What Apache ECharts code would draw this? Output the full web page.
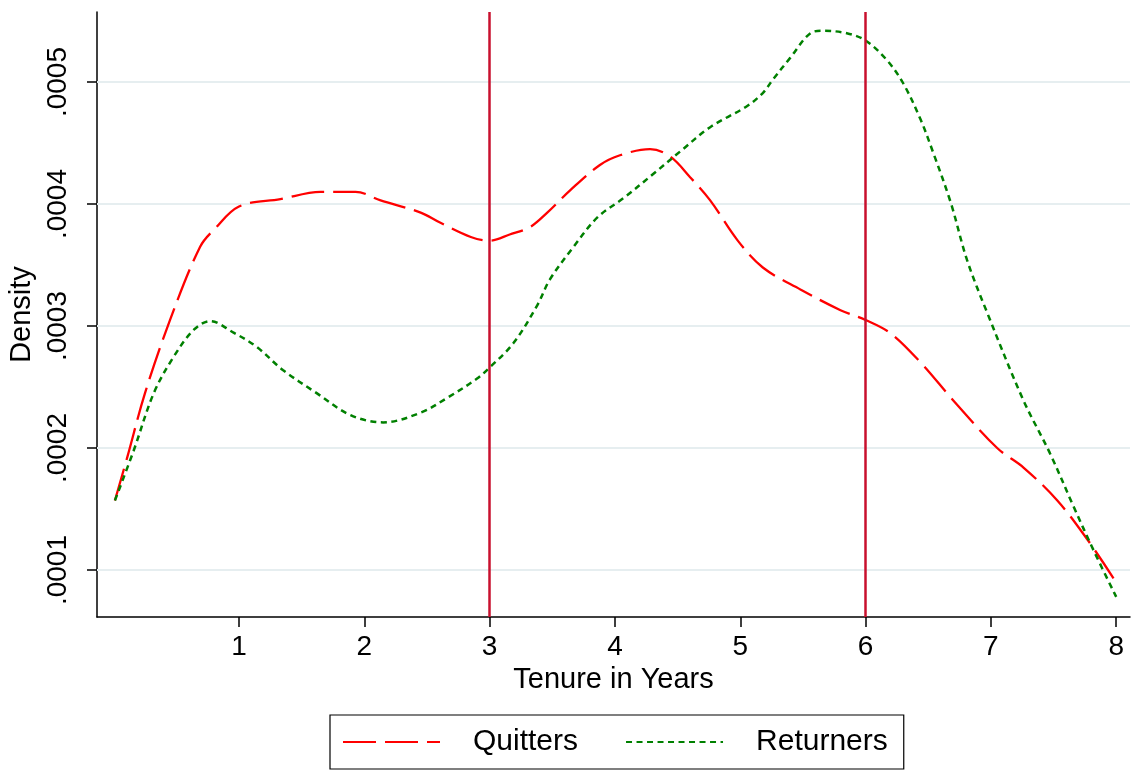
<!DOCTYPE html>
<html>
<head>
<meta charset="utf-8">
<script src="https://cdn.jsdelivr.net/npm/echarts@6/dist/echarts.min.js"></script>
<style>
html,body{margin:0;padding:0;background:#fff;}
#chart{width:1135px;height:773px;}
</style>
</head>
<body>
<div id="chart"></div>
<script>
// Tick values and labels
const xTickValues = [1, 2, 3, 4, 5, 6, 7, 8];
const xTickLabels = ['1', '2', '3', '4', '5', '6', '7', '8'];
const yTickValues = [0.0001, 0.0002, 0.0003, 0.0004, 0.0005];
const yTickLabels = ['.0001', '.0002', '.0003', '.0004', '.0005'];
const referenceLines = [3, 6];

// Quitters (kernel density)
const quittersX = [0.01, 0.11, 0.25, 0.45, 0.69, 0.81, 1.0, 1.33, 1.65, 1.93, 2.13, 2.45, 2.6, 2.85, 3.0, 3.16, 3.32, 3.46, 3.64, 3.88, 4.04, 4.28, 4.44, 4.6, 4.76, 4.98, 5.18, 5.48, 5.8, 6.0, 6.2, 6.44, 6.7, 7.05, 7.26, 7.53, 7.77, 7.98];
const quittersY = [0.000157, 0.000193, 0.000245, 0.000305, 0.000365, 0.00038, 0.000398, 0.000404, 0.00041, 0.00041, 0.000403, 0.000393, 0.000385, 0.000373, 0.00037, 0.000375, 0.000381, 0.000393, 0.000411, 0.000432, 0.00044, 0.000445, 0.000439, 0.000422, 0.000403, 0.00037, 0.000348, 0.00033, 0.000313, 0.000305, 0.000294, 0.00027, 0.000239, 0.0002, 0.000184, 0.000157, 0.000125, 0.000093];

// Returners
const returnersX = [0.01, 0.16, 0.32, 0.48, 0.64, 0.77, 0.95, 1.14, 1.35, 1.62, 1.89, 2.15, 2.45, 2.66, 2.9, 3.0, 3.19, 3.38, 3.48, 3.67, 3.86, 4.07, 4.31, 4.52, 4.76, 5.05, 5.18, 5.26, 5.4, 5.56, 5.66, 5.85, 6.0, 6.17, 6.3, 6.44, 6.54, 6.68, 6.81, 6.97, 7.26, 7.47, 7.66, 7.82, 8.0];
const returnersY = [0.000157, 0.000198, 0.000245, 0.000275, 0.000297, 0.000304, 0.000295, 0.000283, 0.000264, 0.000245, 0.000227, 0.000221, 0.000229, 0.000241, 0.000257, 0.000266, 0.000286, 0.000317, 0.000338, 0.000365, 0.000389, 0.000405, 0.000425, 0.000443, 0.000463, 0.00048, 0.000491, 0.000502, 0.00052, 0.00054, 0.000542, 0.00054, 0.000534, 0.000518, 0.000499, 0.000469, 0.000442, 0.000401, 0.000354, 0.000311, 0.000239, 0.000196, 0.000152, 0.000116, 0.000078];

const X_MIN = -0.133, X_MAX = 8.11;
const Y_MIN = 0.0000615, Y_MAX = 0.0005574;

const toPairs = (xs, ys) => xs.map((x, i) => [x, ys[i]]);
const FONT = 'Liberation Sans, Arial, Helvetica, sans-serif';

const gridSeries = yTickValues.map((v, i) => ({
  name: 'grid' + i,
  type: 'line',
  z: 1,
  silent: true,
  symbol: 'none',
  data: [[X_MIN, v], [X_MAX, v]],
  lineStyle: { color: '#e6eef0', width: 2, type: 'solid' }
}));

const chart = echarts.init(document.getElementById('chart'));
chart.setOption({
  animation: false,
  backgroundColor: '#ffffff',
  grid: { left: 97, right: 5, top: 12, bottom: 156, containLabel: false, outerBoundsMode: 'none' },
  xAxis: {
    type: 'value',
    min: X_MIN,
    max: X_MAX,
    name: 'Tenure in Years',
    nameLocation: 'middle',
    nameGap: 48,
    nameTextStyle: { fontFamily: FONT, fontSize: 29, color: '#000' },
    axisLine: { show: true, onZero: false, lineStyle: { color: '#000', width: 1.5 } },
    axisTick: { show: true, length: 10, lineStyle: { color: '#000', width: 1.5 }, customValues: xTickValues },
    axisLabel: {
      fontFamily: FONT, fontSize: 28, color: '#000', margin: 16,
      customValues: xTickValues,
      formatter: (v) => { const i = xTickValues.findIndex(t => Math.abs(t - v) < 1e-9); return i >= 0 ? xTickLabels[i] : ''; }
    },
    splitLine: { show: false }
  },
  yAxis: {
    type: 'value',
    min: Y_MIN,
    max: Y_MAX,
    name: 'Density',
    nameLocation: 'middle',
    nameGap: 50,
    nameTextStyle: { fontFamily: FONT, fontSize: 29, color: '#000' },
    axisLine: { show: true, onZero: false, lineStyle: { color: '#000', width: 1.5 } },
    axisTick: { show: true, length: 10, lineStyle: { color: '#000', width: 1.5 }, customValues: yTickValues },
    axisLabel: {
      fontFamily: FONT, fontSize: 28, color: '#000', margin: 25, rotate: 90,
      customValues: yTickValues,
      formatter: (v) => { const i = yTickValues.findIndex(t => Math.abs(t - v) < 1e-12); return i >= 0 ? yTickLabels[i] : ''; }
    },
    splitLine: { show: false }
  },
  legend: {
    data: ['Quitters', 'Returners'],
    left: 330,
    top: 715,
    orient: 'horizontal',
    itemWidth: 97,
    itemHeight: 14,
    itemGap: 47,
    padding: [12, 16, 12, 12],
    borderColor: '#000',
    borderWidth: 1.2,
    borderRadius: 0,
    itemStyle: { opacity: 0 },
    textStyle: { fontFamily: FONT, fontSize: 30, color: '#000', padding: [0, 0, 0, 28] }
  },
  series: gridSeries.concat([
    {
      name: 'refs',
      type: 'line',
      data: [],
      z: 2,
      silent: true,
      markLine: {
        silent: true,
        symbol: ['none', 'none'],
        label: { show: false },
        lineStyle: { color: '#c8102e', width: 2.5, type: 'solid' },
        data: referenceLines.map(v => ({ xAxis: v }))
      }
    },
    {
      name: 'Quitters',
      type: 'line',
      z: 3,
      data: toPairs(quittersX, quittersY),
      smooth: 0.35,
      showSymbol: false,
      symbol: 'none',
      color: '#ff0000',
      lineStyle: { color: '#ff0000', width: 2.3, type: [33, 9] }
    },
    {
      name: 'Returners',
      type: 'line',
      z: 3,
      data: toPairs(returnersX, returnersY),
      smooth: 0.35,
      showSymbol: false,
      symbol: 'none',
      color: '#008000',
      lineStyle: { color: '#008000', width: 2.5, type: [6, 4.5] }
    }
  ])
});
</script>
</body>
</html>
